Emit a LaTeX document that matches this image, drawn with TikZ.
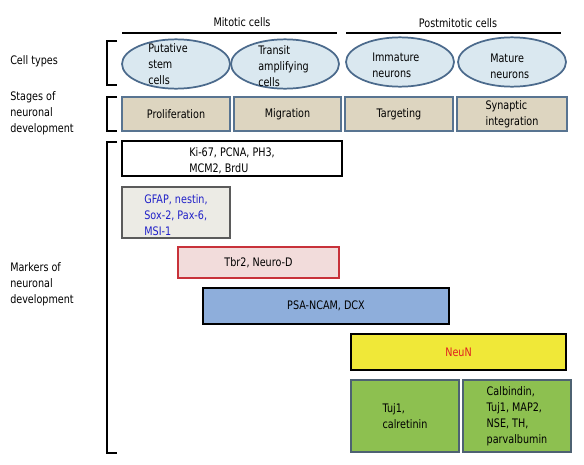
\documentclass[tikz,border=0pt]{standalone}
\usepackage{fontspec}
\setmainfont{DejaVu Sans}[FakeStretch=0.82]
\usetikzlibrary{shapes.geometric}
\definecolor{ellc}{HTML}{4B6A8C}
\definecolor{ellf}{HTML}{DAE8F0}
\definecolor{stgc}{HTML}{587491}
\definecolor{stgf}{HTML}{DDD5C0}
\definecolor{gfc}{HTML}{5B5B5B}
\definecolor{gff}{HTML}{ECEBE5}
\definecolor{gft}{HTML}{2020C8}
\definecolor{tbc}{HTML}{C8323A}
\definecolor{tbf}{HTML}{F2DCDB}
\definecolor{psf}{HTML}{8EAEDB}
\definecolor{nnf}{HTML}{F0E838}
\definecolor{nnt}{HTML}{E02020}
\definecolor{grf}{HTML}{8DC050}
\definecolor{grc}{HTML}{4E6272}
\begin{document}
\begin{tikzpicture}[x=0.75pt,y=-0.75pt,
  font=\fontsize{8.8}{12}\selectfont,
  every node/.style={inner sep=0pt},
  ell/.style={ellipse, draw=ellc, line width=1.3pt, fill=ellf, minimum width=81pt, minimum height=37pt},
  stage/.style={draw=stgc, line width=1.5pt, fill=stgf, align=left, minimum height=25.5pt},
  mk/.style={line width=1.5pt, align=left},
  lbl/.style={align=left, anchor=west},
  br/.style={line width=0.8pt},
  hl/.style={line width=0.9pt}]
\fill[white] (0,0) rectangle (584,464);
\useasboundingbox (0,0) rectangle (584,464);
% headers
\node (mit) at (242,22) {Mitotic cells};
\node (post) at (458,23) {Postmitotic cells};
\draw[hl] (122,33) -- (337,33);
\draw[hl] (346,33) -- (561,33);
% left labels
\node[lbl] (l1) at (10,61) {Cell types};
\node[lbl] (l2) at (10,113) {Stages of\\neuronal\\development};
\node[lbl] (l3) at (10,284) {Markers of\\neuronal\\development};
% brackets
\draw[br] (117,41) -- (107,41) -- (107,85) -- (117,85);
\draw[br] (117,97) -- (107,97) -- (107,131) -- (117,131);
\draw[br] (117,142) -- (107,142) -- (107,453) -- (117,453);
% cell types
\node[ell] (e1) at (176,64) {};
\node[ell] (e2) at (285,64) {};
\node[ell] (e3) at (400,62) {};
\node[ell] (e4) at (512,62) {};
\node[lbl] (t1) at (148,64) {Putative\\stem\\cells};
\node[lbl] (t2) at (258,66) {Transit\\amplifying\\cells};
\node[lbl] (t3) at (372,65) {Immature\\neurons};
\node[lbl] (t4) at (490,66) {Mature\\neurons};
% stages
\node[stage, minimum width=81pt] (s1) at (176,114) {Proliferation};
\node[stage, minimum width=80.25pt] (s2) at (287.5,114) {Migration};
\node[stage, minimum width=81pt] (s3) at (399,114) {Targeting};
\node[stage, minimum width=82.5pt] (s4) at (512,114) {Synaptic\\integration};
% markers
\node[mk, draw=black, fill=white, minimum width=165pt, minimum height=26.25pt] (ki) at (232,158.5) {\rule{0pt}{10pt}Ki-67, PCNA, PH3,\\MCM2, BrdU};
\node[mk, draw=gfc, fill=gff, text=gft, minimum width=81pt, minimum height=38.25pt] (gf) at (176,212.5) {\rule{0pt}{10pt}GFAP, nestin,\\Sox-2, Pax-6,\\MSI-1};
\node[mk, draw=tbc, fill=tbf, minimum width=120.75pt, minimum height=23.25pt] (tb) at (258.5,262.5) {Tbr2, Neuro-D};
\node[mk, draw=black, fill=psf, minimum width=184.5pt, minimum height=27pt] (psa) at (326,306) {PSA-NCAM, DCX};
\node[mk, draw=black, fill=nnf, text=nnt, minimum width=161.25pt, minimum height=27pt] (nn) at (458.5,352) {NeuN};
\node[mk, draw=grc, fill=grf, minimum width=81pt, minimum height=54pt] (tuj) at (405,416) {Tuj1,\\calretinin};
\node[mk, draw=grc, fill=grf, minimum width=81pt, minimum height=54pt] (cal) at (517,416) {Calbindin,\\Tuj1, MAP2,\\NSE, TH,\\parvalbumin};
\end{tikzpicture}
\end{document}
